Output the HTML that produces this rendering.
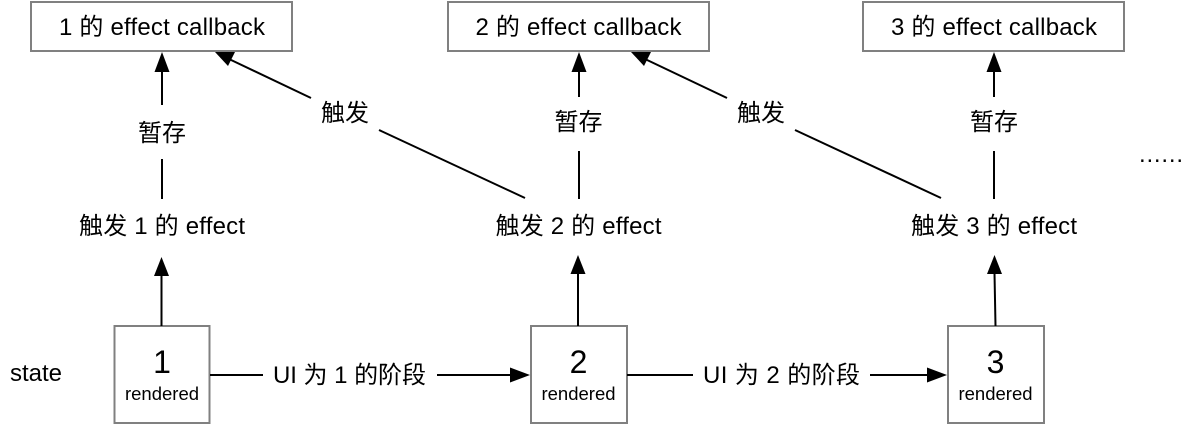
<!DOCTYPE html>
<html>
<head>
<meta charset="utf-8">
<style>
html,body{margin:0;padding:0;background:#fff;width:1196px;height:426px;overflow:hidden}
svg{display:block}
text{font-family:"Liberation Sans","Noto Sans CJK SC",sans-serif;fill:#000;text-anchor:middle}
.t{font-size:24px}
.big{font-size:32px}
.sm{font-size:18.500px}
.box{fill:#fff;stroke:#808080;stroke-width:2}
.l{stroke:#000;stroke-width:2;fill:none}
</style>
</head>
<body>
<svg width="1196" height="426" viewBox="0 0 1196 426" xmlns="http://www.w3.org/2000/svg">
<rect class="box" x="31" y="2" width="261" height="49"/>
<rect class="box" x="448" y="2" width="261" height="49"/>
<rect class="box" x="863" y="2" width="261" height="49"/>
<rect class="box" x="114.500" y="326" width="95" height="97"/>
<rect class="box" x="531" y="326" width="96" height="97"/>
<rect class="box" x="948" y="326" width="96" height="97"/>

<path class="l" d="M162 71V105M162 159V199"/>
<polygon points="162,52 169.500,72 154.500,72"/>
<path class="l" d="M579 71V97M579 151V199"/>
<polygon points="579,52 586.500,72 571.500,72"/>
<path class="l" d="M994 71V97M994 151V199"/>
<polygon points="994,52 1001.500,72 986.500,72"/>

<path class="l" d="M229 59L311 98M379 130L525 198"/>
<polygon points="215,52 235,52 228,66"/>
<path class="l" d="M645 59L727 98M795 130L941 198"/>
<polygon points="631,52 651,52 644,66"/>

<path class="l" d="M161.500 326V275"/>
<polygon points="161.500,257 169,276 154,276"/>
<path class="l" d="M578 326V273"/>
<polygon points="578,255 585.500,274 570.500,274"/>
<path class="l" d="M995.500 326L994.500 273"/>
<polygon points="994.500,255 1002,274 987,274"/>

<path class="l" d="M210 375H263M437 375H512"/>
<polygon points="530,375 510,367.500 510,382.500"/>
<path class="l" d="M627 375H693M870 375H929"/>
<polygon points="947,375 927,367.500 927,382.500"/>

<text class="t" x="162" y="35" textLength="206" lengthAdjust="spacing">1 的 effect callback</text>
<text class="t" x="578.500" y="35" textLength="206" lengthAdjust="spacing">2 的 effect callback</text>
<text class="t" x="994" y="35" textLength="206" lengthAdjust="spacing">3 的 effect callback</text>
<text class="t" x="162" y="141">暂存</text>
<text class="t" x="578.500" y="130">暂存</text>
<text class="t" x="994" y="130">暂存</text>
<text class="t" x="345" y="121">触发</text>
<text class="t" x="761" y="121">触发</text>
<text class="t" x="162" y="234" textLength="166" lengthAdjust="spacing">触发 1 的 effect</text>
<text class="t" x="578.500" y="234" textLength="166" lengthAdjust="spacing">触发 2 的 effect</text>
<text class="t" x="994" y="234" textLength="166" lengthAdjust="spacing">触发 3 的 effect</text>
<text class="t" x="36" y="381">state</text>
<text class="t" x="349.500" y="383" textLength="153" lengthAdjust="spacing">UI 为 1 的阶段</text>
<text class="t" x="781.500" y="383" textLength="157" lengthAdjust="spacing">UI 为 2 的阶段</text>
<text class="big" x="162" y="373">1</text>
<text class="big" x="578.500" y="373">2</text>
<text class="big" x="995.500" y="373">3</text>
<text class="sm" x="162" y="400">rendered</text>
<text class="sm" x="578.500" y="400">rendered</text>
<text class="sm" x="995.500" y="400">rendered</text>
<text class="t" x="1161" y="162" textLength="44" lengthAdjust="spacing">......</text>
</svg>
</body>
</html>
